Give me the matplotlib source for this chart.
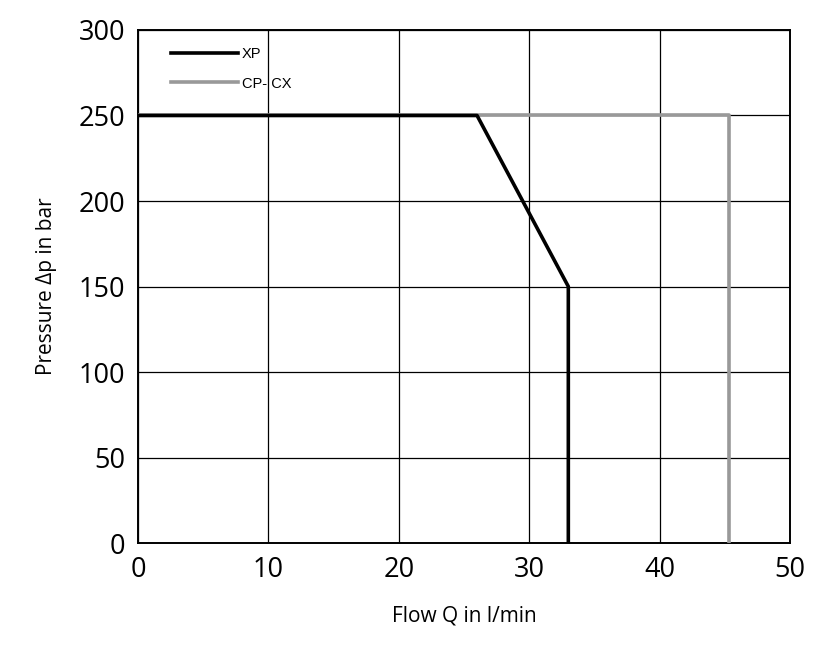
import matplotlib
matplotlib.use("Agg")
import matplotlib.pyplot as plt

# data
xp_flow = [0, 26, 33, 33]
xp_pressure = [250, 250, 150, 0]
cpcx_flow = [0, 45.3, 45.3]
cpcx_pressure = [250, 250, 0]
x_ticks = [0, 10, 20, 30, 40, 50]
y_ticks = [0, 50, 100, 150, 200, 250, 300]

fig = plt.figure(figsize=(8.32, 6.45), dpi=100)
ax = fig.add_axes([0.1659, 0.1581, 0.7836, 0.7954])

# grey first so the black line sits on top
ax.plot(cpcx_flow, cpcx_pressure, color='#999999', lw=2.6, label='CP- CX', zorder=3)
ax.plot(xp_flow, xp_pressure, color='black', lw=2.6, label='XP', zorder=4)

ax.set_xlim(0, 50)
ax.set_ylim(0, 300)
ax.set_xticks(x_ticks)
ax.set_yticks(y_ticks)
ax.grid(True, color='black', lw=0.9)
ax.set_axisbelow(True)
ax.tick_params(length=0, labelsize=19.5, pad=9)
for lab in ax.get_xticklabels() + ax.get_yticklabels():
    lab.set_family('Open Sans')
for s in ax.spines.values():
    s.set_linewidth(1.4)

ax.set_xlabel('Flow Q in l/min', family='Open Sans', fontsize=15, labelpad=16)
ax.set_ylabel('Pressure \u0394p in bar', family='Open Sans', fontsize=15, labelpad=16)

handles, labels = ax.get_legend_handles_labels()
ax.legend(handles[::-1], labels[::-1], loc='upper left', frameon=False,
          prop={'family': 'Liberation Sans', 'size': 10.5},
          handlelength=4.6, labelspacing=1.05, handletextpad=0.3,
          bbox_to_anchor=(0.03, 0.992))

fig.savefig('out.png', dpi=100)
